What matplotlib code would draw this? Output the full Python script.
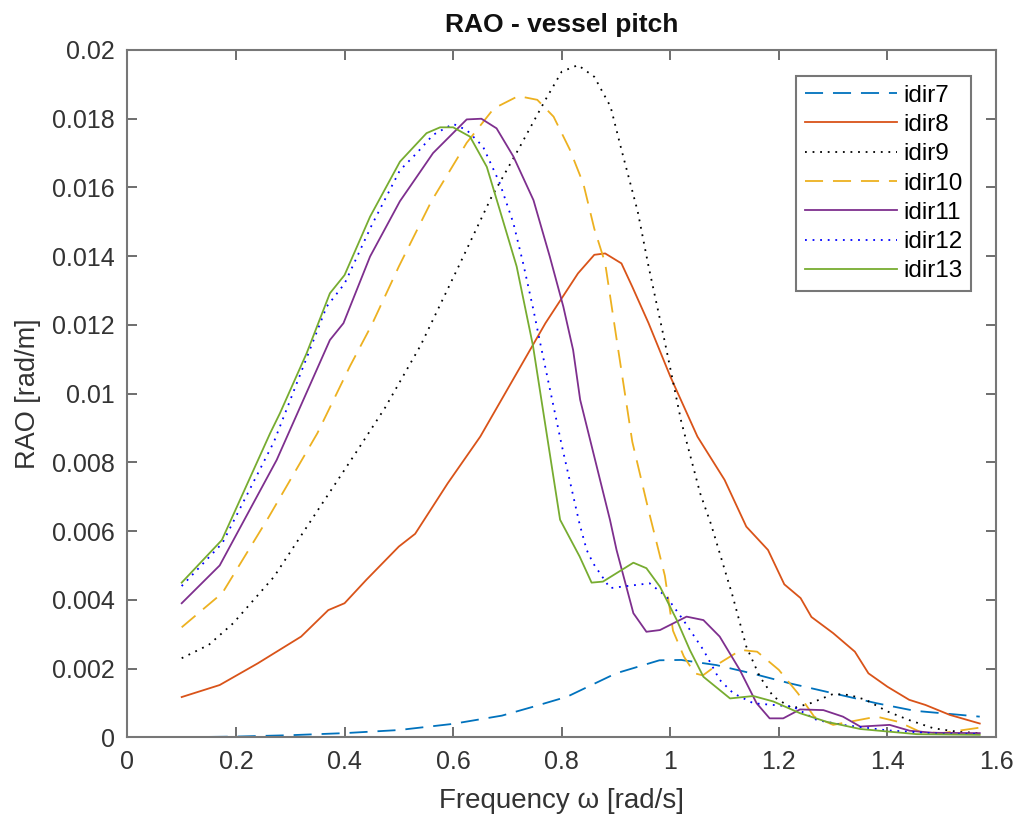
import numpy as np
import matplotlib
matplotlib.use('Agg')
import matplotlib.pyplot as plt

plt.rcParams['font.family'] = ['Liberation Sans', 'DejaVu Sans']

# frequency [rad/s] and RAO [rad/m], one pair per heading
w7 = [0.10, 0.20, 0.30, 0.40, 0.50, 0.60, 0.69, 0.75, 0.81, 0.90, 0.98, 1.02, 1.085, 1.15, 1.22, 1.30, 1.38, 1.45, 1.57]
v7 = [0.0, 0.00002, 0.00006, 0.00012, 0.00021, 0.00039, 0.00063, 0.0009, 0.00118, 0.00186, 0.00224, 0.00225, 0.0021, 0.00186, 0.00157, 0.00128, 0.00099, 0.00077, 0.0006]

w8 = [0.10, 0.17, 0.24, 0.32, 0.37, 0.40, 0.44, 0.50, 0.53, 0.59, 0.65, 0.71, 0.77, 0.83, 0.86, 0.88, 0.91, 0.93, 0.96, 1.0,
      1.05, 1.10, 1.14, 1.18, 1.21, 1.24, 1.26, 1.30, 1.34, 1.365, 1.40, 1.44, 1.47, 1.515, 1.57]
v8 = [0.00117, 0.00152, 0.00215, 0.00293, 0.0037, 0.0039, 0.00458, 0.00555, 0.00592, 0.00739, 0.00875, 0.0104, 0.01205, 0.0135, 0.01404, 0.01408, 0.01379, 0.01311, 0.01205, 0.0105,
      0.00875, 0.00749, 0.00613, 0.00545, 0.00445, 0.00405, 0.0035, 0.00303, 0.00249, 0.00186, 0.00147, 0.00109, 0.00094, 0.00065, 0.0004]

w9 = [0.10, 0.15, 0.195, 0.27, 0.355, 0.42, 0.475, 0.54, 0.61, 0.67, 0.72, 0.77, 0.80, 0.83, 0.86, 0.89, 0.91, 0.94, 0.96, 0.99,
      1.02, 1.055, 1.075, 1.115, 1.14, 1.165, 1.19, 1.225, 1.26, 1.30, 1.33, 1.36, 1.40, 1.44, 1.485, 1.53, 1.57]
v9 = [0.0023, 0.00269, 0.00332, 0.00467, 0.00671, 0.00826, 0.0096, 0.0114, 0.0137, 0.0157, 0.0171, 0.01855, 0.01937, 0.01956, 0.01922, 0.01835, 0.0171, 0.0153, 0.0137, 0.0115,
      0.0092, 0.0071, 0.0062, 0.0041, 0.00264, 0.00176, 0.00118, 0.00084, 0.001, 0.00126, 0.00123, 0.00109, 0.00075, 0.0005, 0.00026, 0.00016, 0.00012]

w10 = [0.10, 0.175, 0.26, 0.35, 0.41, 0.45, 0.50, 0.56, 0.625, 0.675, 0.72, 0.755, 0.785, 0.815, 0.84, 0.86, 0.88, 0.90, 0.93, 0.96,
       0.99, 1.005, 1.025, 1.045, 1.06, 1.09, 1.13, 1.16, 1.20, 1.235, 1.265, 1.30, 1.38, 1.42, 1.46, 1.50, 1.57]
v10 = [0.0032, 0.0042, 0.0064, 0.00885, 0.0108, 0.0120, 0.0137, 0.0156, 0.0173, 0.0183, 0.01866, 0.01855, 0.01806, 0.0171, 0.0161, 0.0148, 0.0138, 0.0117, 0.0086, 0.0066,
       0.0047, 0.0031, 0.00235, 0.00186, 0.0018, 0.00215, 0.00254, 0.00249, 0.00196, 0.00128, 0.0006, 0.00036, 0.0006, 0.00045, 0.00016, 0.00012, 0.00028]

w11 = [0.10, 0.17, 0.275, 0.373, 0.398, 0.447, 0.502, 0.533, 0.563, 0.625, 0.652, 0.68, 0.711, 0.748, 0.778, 0.803, 0.821, 0.834, 0.889, 0.901,
       0.932, 0.956, 0.981, 1.03, 1.061, 1.091, 1.128, 1.159, 1.183, 1.208, 1.239, 1.282, 1.318, 1.35, 1.404, 1.441, 1.484, 1.57]
v11 = [0.0039, 0.005, 0.00807, 0.01156, 0.01205, 0.01399, 0.0156, 0.01631, 0.0170, 0.01798, 0.018, 0.01772, 0.0169, 0.01563, 0.01399, 0.01253, 0.01127, 0.00982, 0.00632, 0.00545,
       0.00361, 0.00307, 0.00312, 0.00351, 0.00341, 0.00293, 0.00196, 0.00099, 0.00055, 0.00055, 0.00081, 0.00079, 0.0006, 0.00031, 0.00036, 0.00019, 0.00013, 0.00012]

w12 = [0.10, 0.175, 0.27, 0.367, 0.40, 0.45, 0.502, 0.533, 0.563, 0.60, 0.625, 0.655, 0.686, 0.711, 0.729, 0.748, 0.76, 0.80, 0.833, 0.846,
       0.858, 0.889, 0.92, 0.962, 0.993, 1.024, 1.061, 1.091, 1.116, 1.153, 1.226, 1.27, 1.318, 1.40, 1.50, 1.57]
v12 = [0.0044, 0.00565, 0.0086, 0.01253, 0.0132, 0.0149, 0.0165, 0.0170, 0.01753, 0.01785, 0.01767, 0.01719, 0.01612, 0.01496, 0.01379, 0.01243, 0.0115, 0.0085, 0.0062, 0.00545,
       0.00506, 0.00434, 0.0044, 0.00448, 0.00409, 0.00341, 0.00254, 0.00167, 0.00128, 0.00099, 0.00089, 0.0005, 0.00036, 0.0002, 0.0001, 0.0001]

w13 = [0.10, 0.174, 0.263, 0.281, 0.33, 0.373, 0.40, 0.447, 0.502, 0.551, 0.576, 0.60, 0.631, 0.662, 0.686, 0.717, 0.747, 0.797, 0.833, 0.855,
       0.876, 0.932, 0.956, 0.981, 1.012, 1.036, 1.061, 1.11, 1.153, 1.19, 1.239, 1.288, 1.35, 1.454, 1.57]
v13 = [0.0045, 0.00574, 0.00885, 0.00943, 0.01117, 0.01292, 0.01345, 0.01515, 0.01675, 0.01758, 0.01775, 0.01775, 0.01748, 0.0166, 0.01534, 0.0137, 0.0114, 0.00633, 0.00526, 0.0045,
       0.00453, 0.00508, 0.00492, 0.00438, 0.00341, 0.00254, 0.00176, 0.00113, 0.0012, 0.00104, 0.0007, 0.00045, 0.00024, 0.00009, 0.00007]

labels = ['idir7', 'idir8', 'idir9', 'idir10', 'idir11', 'idir12', 'idir13']
xticks = [0, 0.2, 0.4, 0.6, 0.8, 1.0, 1.2, 1.4, 1.6]
xticklabels = ['0', '0.2', '0.4', '0.6', '0.8', '1', '1.2', '1.4', '1.6']
yticks = [0, 0.002, 0.004, 0.006, 0.008, 0.01, 0.012, 0.014, 0.016, 0.018, 0.02]
yticklabels = ['0', '0.002', '0.004', '0.006', '0.008', '0.01', '0.012', '0.014', '0.016', '0.018', '0.02']

fig = plt.figure(figsize=(10.2, 8.21), dpi=100)
ax = fig.add_axes([0.1249, 0.1020, 0.8516, 0.8371])

lw = 1.3
ax.plot(w7, v7, color='#0072BD', lw=lw, dashes=(10, 5.5), label=labels[0])
ax.plot(w8, v8, color='#D95319', lw=lw, label=labels[1])
ax.plot(w9, v9, color='black', lw=lw, dashes=(1, 3.2), label=labels[2])
ax.plot(w10, v10, color='#EDB120', lw=lw, dashes=(10, 5.5), label=labels[3])
ax.plot(w11, v11, color='#7E2F8E', lw=lw, label=labels[4])
ax.plot(w12, v12, color='blue', lw=lw, dashes=(1, 3.2), label=labels[5])
ax.plot(w13, v13, color='#77AC30', lw=lw, label=labels[6])

ax.set_xlim(0, 1.6)
ax.set_ylim(0, 0.02)
ax.set_xticks(xticks)
ax.set_xticklabels(xticklabels)
ax.set_yticks(yticks)
ax.set_yticklabels(yticklabels)

for s in ax.spines.values():
    s.set_color('#777777')
    s.set_linewidth(1.5)
ax.tick_params(direction='in', length=7, width=1.2, color='#555555',
               top=True, right=True, labelsize=18, labelcolor='#333333', pad=9)

ax.set_title('RAO - vessel pitch', fontsize=19, fontweight='bold', color='#111111', pad=13)
ax.set_xlabel('Frequency ω [rad/s]', fontsize=20, color='#333333', labelpad=10)
ax.set_ylabel('RAO [rad/m]', fontsize=19.5, color='#333333', labelpad=8)

leg = ax.legend(loc='upper right', bbox_to_anchor=(0.971, 0.962), fontsize=17.5,
                handlelength=3.8, handletextpad=0.25, labelspacing=0.3,
                borderpad=0.35, borderaxespad=0.0, fancybox=False, framealpha=1)
leg.get_frame().set_edgecolor('#777777')
leg.get_frame().set_linewidth(1.5)

fig.savefig('out.png', dpi=100)
